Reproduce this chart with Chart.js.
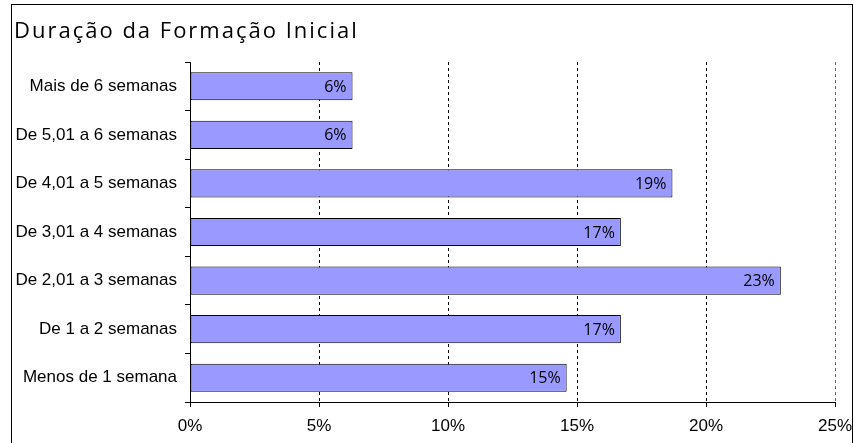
<!DOCTYPE html>
<html>
<head>
<meta charset="utf-8">
<script src="https://cdn.jsdelivr.net/npm/chart.js@4/dist/chart.umd.min.js"></script>
<style>
  html, body { margin: 0; padding: 0; background: #fff; }
  canvas { display: block; }
</style>
</head>
<body>
<canvas id="c" width="854" height="443"></canvas>
<script>
// Duração da formação inicial — share of respondents per duration band
const chartTitle = 'Duração da Formação Inicial';
const categories = [
  'Mais de 6 semanas',
  'De 5,01 a 6 semanas',
  'De 4,01 a 5 semanas',
  'De 3,01 a 4 semanas',
  'De 2,01 a 3 semanas',
  'De 1 a 2 semanas',
  'Menos de 1 semana'
];
const shares = [6.3, 6.3, 18.7, 16.7, 22.9, 16.7, 14.6];
const xTicks = [0, 5, 10, 15, 20, 25];

// Frame around the whole chart and the spaced-out title
const framePlugin = {
  id: 'frame',
  afterDraw(chart) {
    const ctx = chart.ctx;
    ctx.save();
    ctx.strokeStyle = '#000';
    ctx.lineWidth = 1;
    ctx.strokeRect(11.5, 4.5, 841, 480);
    ctx.fillStyle = '#000';
    ctx.font = '22px "Open Sans"';
    if ('letterSpacing' in ctx) ctx.letterSpacing = '2px';
    ctx.textAlign = 'left';
    ctx.textBaseline = 'alphabetic';
    ctx.fillText(chartTitle, 14, 38);
    ctx.restore();
  }
};

// Value labels just inside the end of each bar
const valueLabels = {
  id: 'valueLabels',
  afterDatasetsDraw(chart) {
    const ctx = chart.ctx;
    const meta = chart.getDatasetMeta(0);
    ctx.save();
    ctx.fillStyle = '#000';
    ctx.font = '16px "Open Sans"';
    ctx.textAlign = 'right';
    ctx.textBaseline = 'middle';
    meta.data.forEach((bar, i) => {
      const v = chart.data.datasets[0].data[i];
      ctx.fillText(Math.round(v) + '%', bar.x - 6, bar.y + 1);
    });
    ctx.restore();
  }
};

new Chart(document.getElementById('c'), {
  type: 'bar',
  data: {
    labels: categories,
    datasets: [{
      data: shares,
      backgroundColor: '#9999FF',
      borderColor: '#000',
      borderWidth: 1,
      borderSkipped: false,
      categoryPercentage: 1,
      barPercentage: 0.58
    }]
  },
  options: {
    indexAxis: 'y',
    responsive: false,
    animation: false,
    events: [],
    layout: { padding: { top: 62, right: 19, bottom: 0, left: 0 } },
    plugins: {
      legend: { display: false },
      title: { display: false },
      tooltip: { enabled: false }
    },
    scales: {
      x: {
        min: 0,
        max: 25,
        afterBuildTicks(scale) {
          scale.ticks = xTicks.map(v => ({ value: v }));
        },
        afterFit(scale) {
          scale.height = 41;
          scale.paddingLeft = 0;
          scale.paddingRight = 0;
        },
        ticks: {
          color: '#000',
          font: { family: '"Liberation Sans", Arial', size: 17 },
          padding: 9,
          maxRotation: 0,
          callback: v => v + '%'
        },
        grid: {
          color: ctx => (ctx.tick && ctx.tick.value === 25) ? '#666' : '#000',
          lineWidth: 1,
          drawTicks: true,
          tickLength: 5,
          tickColor: '#000'
        },
        border: { display: true, color: '#000', width: 1, dash: [3, 3] }
      },
      y: {
        afterFit(scale) { scale.width = 190; },
        ticks: {
          color: '#000',
          font: { family: '"Liberation Sans", Arial', size: 17 },
          padding: 8
        },
        grid: {
          drawOnChartArea: false,
          drawTicks: true,
          tickLength: 5,
          tickColor: '#000',
          offset: true
        },
        border: { display: true, color: '#000', width: 1 }
      }
    }
  },
  plugins: [framePlugin, valueLabels]
});
</script>
</body>
</html>
